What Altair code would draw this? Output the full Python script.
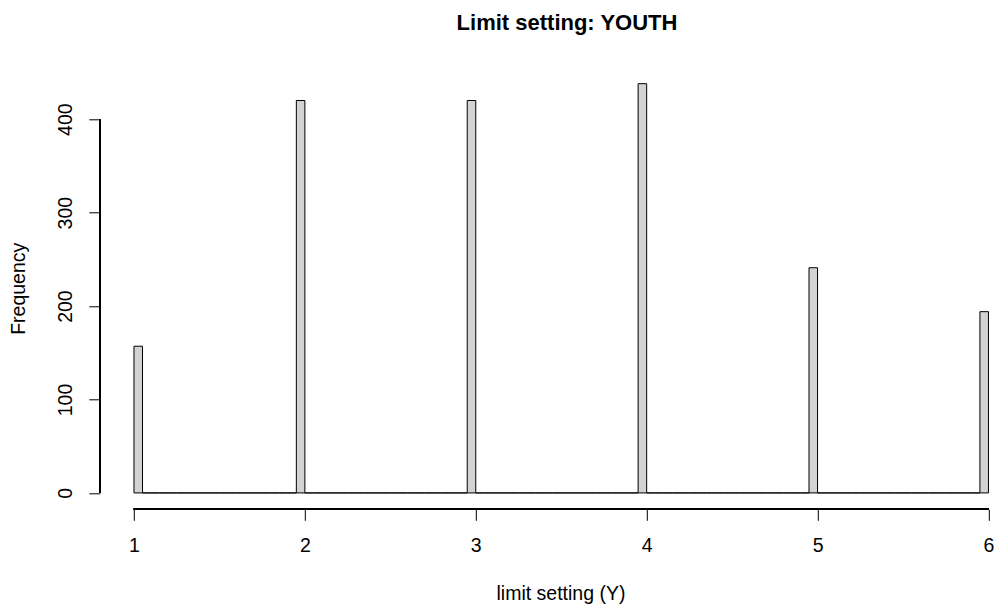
import altair as alt
import pandas as pd

# Answers given on the limit-setting item (youth report) and their counts
levels = [1, 2, 3, 4, 5, 6]
counts = [157, 420, 420, 438, 241, 194]

# hist()-style bins: 1 to 6 in steps of 0.05, right-closed, lowest value included
step = 0.05
n_bins = 100
starts = [round(1 + i * step, 2) for i in range(n_bins)]
ends = [round(s + step, 2) for s in starts]
freq = [0] * n_bins
for lv, c in zip(levels, counts):
    idx = 0 if lv == levels[0] else int(round((lv - 1) / step)) - 1
    freq[idx] += c

bins = pd.DataFrame({"start": starts, "end": ends, "freq": freq})

FONT = "Liberation Sans"
FS = 19.5
W, H = 897.2, 442
ymax = max(counts)
pad = 0.04 * ymax

xs = alt.Scale(domain=[0.8, 6.05], nice=False, zero=False)
ys = alt.Scale(domain=[-pad, ymax + pad], nice=False, zero=False)

x_axis = alt.Axis(
    values=levels, format="d", domain=False, grid=False,
    tickSize=11, tickColor="black", tickWidth=1,
    labelFont=FONT, labelFontSize=FS, labelColor="black",
    labelBaseline="alphabetic", labelPadding=31,
    title="limit setting (Y)", titleFont=FONT, titleFontSize=FS,
    titleFontWeight="normal", titleColor="black",
    titleX=460.7, titleY=90.5, titleBaseline="alphabetic", titleAlign="center",
)
y_axis = alt.Axis(
    values=[0, 100, 200, 300, 400], format="d", domain=False, grid=False,
    tickSize=11, tickColor="black", tickWidth=1,
    labelFont=FONT, labelFontSize=FS, labelColor="black",
    labelAngle=270, labelAlign="center", labelBaseline="alphabetic", labelPadding=17,
    title="Frequency", titleFont=FONT, titleFontSize=FS,
    titleFontWeight="normal", titleColor="black",
    titleAngle=270, titleX=-75, titleY=H / 2, titleBaseline="alphabetic",
    titleAlign="center",
)

bars = alt.Chart(bins).mark_rect(fill="#D3D3D3", stroke="black", strokeWidth=1).encode(
    x=alt.X("start:Q", scale=xs, axis=x_axis),
    x2="end:Q",
    y=alt.Y("freq:Q", scale=ys, axis=y_axis),
    y2=alt.datum(0),
)

# axis lines span only the tick range, as in base R graphics
x_line = alt.Chart(bins).mark_rule(color="black", strokeWidth=1).encode(
    x=alt.datum(levels[0]), x2=alt.datum(levels[-1]), y=alt.value(H - 0.3)
)
y_line = alt.Chart(bins).mark_rule(color="black", strokeWidth=1).encode(
    x=alt.value(0), y=alt.datum(0), y2=alt.datum(400)
)

chart = alt.layer(bars, x_line, y_line).properties(
    width=W,
    height=H,
    title=alt.TitleParams(
        "Limit setting: YOUTH", font=FONT, fontSize=22, fontWeight="bold",
        color="black", anchor="middle", frame="group", dx=18.6,
        offset=15, baseline="alphabetic",
    ),
    autosize=alt.AutoSizeParams(type="none"),
    padding={"left": 99.8, "top": 67.3, "right": 0, "bottom": 99.7},
    background="white",
).configure_view(stroke=None)

chart.save("out.html", embed_options={"renderer": "svg", "actions": False})
